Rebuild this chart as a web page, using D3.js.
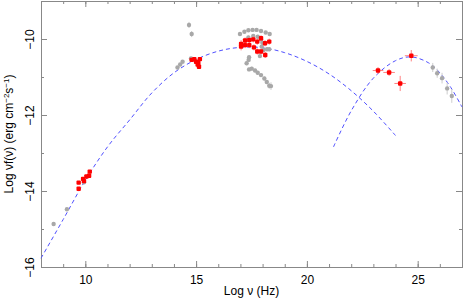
<!DOCTYPE html>
<html>
<head>
<meta charset="utf-8">
<script src="https://cdn.jsdelivr.net/npm/d3@7"></script>
<style>
body { margin: 0; background: #fff; }
svg { display: block; font-family: "Liberation Sans", Arial, sans-serif; }
.axis path, .axis line { stroke: #888; }
.axis text { fill: #000; font-size: 12px; }
</style>
</head>
<body>
<svg width="463" height="300"></svg>
<script>
// SED: log frequency vs log nu F nu, archival (grey) and simultaneous (red) data

// synchrotron and inverse-Compton model curves
var syncX = [8, 9, 10, 11, 12, 13, 14, 15, 16, 17, 18, 19, 20, 21, 22, 23, 24];
var syncY = [-15.77, -14.75, -13.72, -12.84, -12.13, -11.42, -10.89, -10.54, -10.32, -10.22, -10.23, -10.36, -10.59, -10.92, -11.36, -11.9, -12.54];
var icX = [21.2, 22, 23, 24, 24.7, 25.5, 26, 26.5, 27];
var icY = [-12.84, -11.89, -11.03, -10.57, -10.47, -10.63, -10.89, -11.28, -11.79];

// archival data (grey)
var greyX = [8.57, 9.17, 9.94, 14.68, 14.8, 14.16, 14.28, 14.39, 14.77,
	16.98, 17.18, 17.36, 17.55, 17.73, 17.93, 18.14, 18.32,
	17.36, 17.58, 17.78, 17.93, 17.99, 17.96, 18.04, 18.2, 18.3,
	17.88, 17.39, 17.37, 17.28, 17.39, 17.51, 17.66, 17.78, 17.93, 18.08, 18.19, 18.3, 18.38,
	25.68, 25.88, 26.1, 26.33, 26.54];
var greyY = [-14.87, -14.48, -13.77, -9.63, -9.87, -10.75, -10.67, -10.6, -10.51,
	-9.87, -9.81, -9.77, -9.76, -9.76, -9.79, -9.83, -9.87,
	-9.96, -9.92, -9.94, -10.01, -10.1, -10.2, -10.29, -10.27, -10.27,
	-10.45, -10.48, -10.55, -10.64, -10.8, -10.78, -10.83, -10.89, -10.95, -11.04, -11.13, -11.23, -11.24,
	-10.75, -10.9, -11.03, -11.3, -11.5];
var greyErr = [0, 0, 0, 0.08, 0.08, 0.03, 0.03, 0.03, 0.03,
	0.03, 0.03, 0.03, 0.03, 0.03, 0.03, 0.03, 0.05,
	0.05, 0.05, 0.05, 0.05, 0.05, 0.05, 0.05, 0.05, 0.05,
	0.05, 0.05, 0.05, 0.05, 0.05, 0.05, 0.05, 0.05, 0.05, 0.05, 0.05, 0.08, 0.1,
	0.12, 0.12, 0.14, 0.16, 0.18];

// simultaneous data (red)
var redX = [9.7, 9.7, 9.9, 9.94, 10.05, 10.17, 10.2,
	14.8, 14.92, 15.0, 15.17, 15.1, 15.07, 15.13,
	17.03, 17.03, 17.21, 17.21, 17.4, 17.4, 17.58, 17.61, 17.76, 17.76, 17.93, 17.93, 18.11, 18.12, 18.3,
	23.21, 23.71, 24.21, 24.71];
var redY = [-13.78, -13.94, -13.68, -13.74, -13.62, -13.6, -13.49,
	-10.55, -10.53, -10.6, -10.53, -10.63, -10.67, -10.73,
	-10.13, -10.2, -10.04, -10.16, -10.03, -10.16, -10.01, -10.22, -10.07, -10.33, -9.98, -10.33, -10.11, -10.42, -10.07,
	-10.83, -10.88, -11.17, -10.44];
var redErrY = [0.04, 0.04, 0.04, 0.04, 0.04, 0.04, 0.04,
	0.03, 0.03, 0.03, 0.03, 0.03, 0.03, 0.03,
	0.1, 0.1, 0.08, 0.08, 0.08, 0.08, 0.08, 0.08, 0.08, 0.08, 0.08, 0.08, 0.08, 0.08, 0.08,
	0.09, 0.09, 0.2, 0.15];
var redErrX = [0, 0, 0, 0, 0, 0, 0,
	0, 0, 0, 0, 0, 0, 0,
	0, 0, 0, 0, 0, 0, 0, 0, 0, 0, 0, 0, 0, 0, 0,
	0.24, 0.26, 0.26, 0.29];

var xMajor = [10, 15, 20, 25];
var yMajor = [-16, -14, -12, -10];

function draw(){
	var svg = d3.select("svg");
	var pLeft = 41, pRight = 462, pTop = 1, pBottom = 267;

	var x = d3.scaleLinear().domain([8, 27]).range([pLeft, pRight]);
	var y = d3.scaleLinear().domain([-16, -9]).range([pBottom, pTop]);

	var xMinor = d3.range(8, 28, 1);
	var yMinor = d3.range(-16, -8, 1);

	// minor ticks on all four sides
	svg.append("g").attr("class", "axis").attr("transform", "translate(0," + pBottom + ")")
		.call(d3.axisBottom(x).tickValues(xMinor).tickSize(-3).tickFormat(""));
	svg.append("g").attr("class", "axis").attr("transform", "translate(0," + pTop + ")")
		.call(d3.axisTop(x).tickValues(xMinor).tickSize(-3).tickFormat(""));
	svg.append("g").attr("class", "axis").attr("transform", "translate(" + pLeft + ",0)")
		.call(d3.axisLeft(y).tickValues(yMinor).tickSize(-3).tickFormat(""));
	svg.append("g").attr("class", "axis").attr("transform", "translate(" + pRight + ",0)")
		.call(d3.axisRight(y).tickValues(yMinor).tickSize(-3).tickFormat(""));

	// major ticks
	svg.append("g").attr("class", "axis").attr("transform", "translate(0," + pBottom + ")")
		.call(d3.axisBottom(x).tickValues(xMajor).tickSize(-6).tickPadding(8));
	svg.append("g").attr("class", "axis").attr("transform", "translate(0," + pTop + ")")
		.call(d3.axisTop(x).tickValues(xMajor).tickSize(-6).tickFormat(""));
	var yAx = svg.append("g").attr("class", "axis").attr("transform", "translate(" + pLeft + ",0)")
		.call(d3.axisLeft(y).tickValues(yMajor).tickSize(-6).tickFormat(d3.format("d")));
	svg.append("g").attr("class", "axis").attr("transform", "translate(" + pRight + ",0)")
		.call(d3.axisRight(y).tickValues(yMajor).tickSize(-6).tickFormat(""));

	yAx.selectAll(".tick text")
		.attr("transform", "translate(-7,0) rotate(-90)")
		.attr("x", 0).attr("y", 0).attr("dy", 0)
		.attr("text-anchor", "middle");

	// model curves
	var line = d3.line().x(d => x(d[0])).y(d => y(d[1])).curve(d3.curveCatmullRom);
	[[syncX, syncY], [icX, icY]].forEach(function(c){
		svg.append("path")
			.attr("d", line(d3.zip(c[0], c[1])))
			.attr("fill", "none")
			.attr("stroke", "#5050ff")
			.attr("stroke-width", 1)
			.attr("stroke-dasharray", "4,3");
	});

	// grey data
	var grey = svg.append("g");
	grey.selectAll("line").data(d3.range(greyX.length).filter(i => greyErr[i] > 0)).enter().append("line")
		.attr("x1", i => x(greyX[i])).attr("x2", i => x(greyX[i]))
		.attr("y1", i => y(greyY[i] - greyErr[i])).attr("y2", i => y(greyY[i] + greyErr[i]))
		.attr("stroke", "#ccc").attr("stroke-width", 1);
	grey.selectAll("circle").data(d3.range(greyX.length)).enter().append("circle")
		.attr("cx", i => x(greyX[i])).attr("cy", i => y(greyY[i]))
		.attr("r", 2.2).attr("fill", "#a8a8a8");

	// red data
	var red = svg.append("g");
	var idx = d3.range(redX.length);
	red.selectAll("line.ey").data(idx).enter().append("line").attr("class", "ey")
		.attr("x1", i => x(redX[i])).attr("x2", i => x(redX[i]))
		.attr("y1", i => y(redY[i] - redErrY[i])).attr("y2", i => y(redY[i] + redErrY[i]))
		.attr("stroke", "#ff8080").attr("stroke-width", 1);
	red.selectAll("line.ex").data(idx.filter(i => redErrX[i] > 0)).enter().append("line").attr("class", "ex")
		.attr("x1", i => x(redX[i] - redErrX[i])).attr("x2", i => x(redX[i] + redErrX[i]))
		.attr("y1", i => y(redY[i])).attr("y2", i => y(redY[i]))
		.attr("stroke", "#ff8080").attr("stroke-width", 1);
	red.selectAll("rect").data(idx).enter().append("rect")
		.attr("x", i => x(redX[i]) - 2.2).attr("y", i => y(redY[i]) - 2.2)
		.attr("width", 4.4).attr("height", 4.4).attr("rx", 1)
		.attr("fill", "#ff0000");

	// axis titles
	svg.append("text")
		.attr("x", (pLeft + pRight) / 2).attr("y", 295)
		.attr("text-anchor", "middle").attr("font-size", 12)
		.text("Log ν (Hz)");

	var yt = svg.append("text")
		.attr("transform", "translate(13," + ((pTop + pBottom) / 2) + ") rotate(-90)")
		.attr("text-anchor", "middle").attr("font-size", 12);
	yt.append("tspan").text("Log νf(ν) (erg cm");
	yt.append("tspan").attr("dy", -4).attr("font-size", 8).text("−2");
	yt.append("tspan").attr("dy", 4).text("s");
	yt.append("tspan").attr("dy", -4).attr("font-size", 8).text("−1");
	yt.append("tspan").attr("dy", 4).text(")");
}

draw();
</script>
</body>
</html>
